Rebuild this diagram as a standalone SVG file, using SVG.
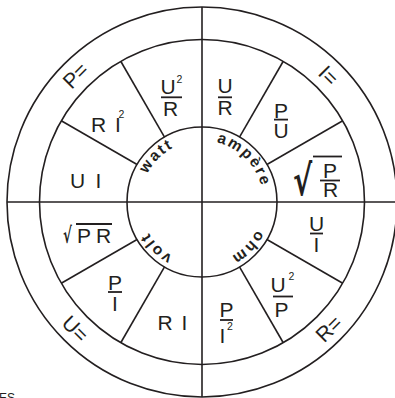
<svg xmlns="http://www.w3.org/2000/svg" width="395" height="398" viewBox="0 0 395 398">
<style>
.ln{stroke:#231f20;stroke-width:1.6;fill:none}
.bar{stroke:#231f20;stroke-width:1.8}
.t{font-family:"Liberation Sans",Arial,sans-serif;font-size:21px;fill:#231f20;text-anchor:middle}
.s{font-family:"Liberation Sans",Arial,sans-serif;font-size:10.5px;fill:#231f20;text-anchor:middle}
.u{font-family:"Liberation Sans",Arial,sans-serif;font-size:15.5px;font-weight:bold;fill:#231f20;letter-spacing:2px;text-anchor:middle}
.rad{font-family:"DejaVu Sans",sans-serif;font-weight:bold;fill:#231f20}
</style>
<defs>
<path id="ring" d="M 140.5 202 A 61.5 61.5 0 1 1 263.5 202 A 61.5 61.5 0 1 1 140.5 202"/>
</defs>
<rect width="395" height="398" fill="#ffffff"/>
<g id="frame">
<circle class="ln" cx="202" cy="202" r="195"/>
<circle class="ln" cx="202" cy="202" r="162.5"/>
<circle class="ln" cx="202" cy="202" r="75"/>
<line class="ln" x1="7" y1="202" x2="397" y2="202"/>
<line class="ln" x1="202" y1="7" x2="202" y2="397"/>
</g>
<g id="connectors">
<line class="ln" x1="137.05" y1="164.5" x2="61.27" y2="120.75"/>
<line class="ln" x1="164.5" y1="137.05" x2="120.75" y2="61.27"/>
<line class="ln" x1="239.5" y1="137.05" x2="283.25" y2="61.27"/>
<line class="ln" x1="266.95" y1="164.5" x2="342.73" y2="120.75"/>
<line class="ln" x1="266.95" y1="239.5" x2="342.73" y2="283.25"/>
<line class="ln" x1="239.5" y1="266.95" x2="283.25" y2="342.73"/>
<line class="ln" x1="164.5" y1="266.95" x2="120.75" y2="342.73"/>
<line class="ln" x1="137.05" y1="239.5" x2="61.27" y2="283.25"/>
</g>
<g id="units">
<text class="u"><textPath href="#ring" startOffset="12.5%">watt</textPath></text>
<text class="u"><textPath href="#ring" startOffset="37.5%">ampère</textPath></text>
<text class="u"><textPath href="#ring" startOffset="62.5%">ohm</textPath></text>
<text class="u"><textPath href="#ring" startOffset="87.5%">volt</textPath></text>
</g>
<g id="label-P"><text class="t" transform="translate(75.4 75.4) rotate(-45)" y="7.5">P=</text></g>
<g id="label-I"><text class="t" transform="translate(328.6 75.4) rotate(45)" y="7.5">I=</text></g>
<g id="label-U"><text class="t" transform="translate(75.4 328.6) rotate(45)" y="7.5">U=</text></g>
<g id="label-R"><text class="t" transform="translate(328.6 328.6) rotate(-45)" y="7.5">R=</text></g>
<g id="p-u2r">
<text class="t" x="168" y="93.5">U</text><text class="s" x="179.5" y="82.5">2</text>
<line class="bar" x1="161" y1="97.3" x2="182" y2="97.3"/>
<text class="t" x="170.5" y="116">R</text>
</g>
<g id="p-ri2">
<text class="t" x="98.5" y="131.5">R</text><text class="t" x="118" y="131.5">I</text><text class="s" x="121.5" y="118">2</text>
</g>
<g id="p-ui">
<text class="t" x="77.5" y="188">U</text><text class="t" x="98.5" y="188">I</text>
</g>
<g id="i-ur">
<text class="t" x="225" y="93">U</text>
<line class="bar" x1="218" y1="97.3" x2="232" y2="97.3"/>
<text class="t" x="225" y="115">R</text>
</g>
<g id="i-pu">
<text class="t" x="281" y="117.5">P</text>
<line class="bar" x1="274" y1="119.6" x2="288" y2="119.6"/>
<text class="t" x="281" y="138">U</text>
</g>
<g id="i-sqrt">
<text class="rad" transform="translate(293 195) scale(0.72 1.05)" font-size="40">√</text>
<line class="bar" x1="313" y1="156.5" x2="342" y2="156.5"/>
<text class="t" x="330" y="178">P</text>
<line class="bar" x1="320" y1="180.5" x2="340" y2="180.5"/>
<text class="t" x="330.5" y="197">R</text>
</g>
<g id="r-ui">
<text class="t" x="316.5" y="231">U</text>
<line class="bar" x1="310" y1="233.5" x2="323" y2="233.5"/>
<text class="t" x="316.5" y="252">I</text>
</g>
<g id="r-u2p">
<text class="t" x="278" y="292">U</text><text class="s" x="291.5" y="280">2</text>
<line class="bar" x1="273" y1="296.5" x2="293" y2="296.5"/>
<text class="t" x="281.5" y="317">P</text>
</g>
<g id="r-pi2">
<text class="t" x="226.5" y="317">P</text>
<line class="bar" x1="220" y1="320" x2="233" y2="320"/>
<text class="t" x="222.5" y="343">I</text><text class="s" x="230" y="330">2</text>
</g>
<g id="u-sqrt">
<text class="rad" transform="translate(63 243) scale(0.6 1)" font-size="22">√</text>
<line class="bar" x1="76" y1="224" x2="112" y2="224"/>
<text class="t" x="84" y="243">P</text><text class="t" x="103.5" y="243">R</text>
</g>
<g id="u-pi">
<text class="t" x="115" y="290">P</text>
<line class="bar" x1="108" y1="292" x2="122" y2="292"/>
<text class="t" x="115" y="310.5">I</text>
</g>
<g id="u-ri">
<text class="t" x="165" y="330">R</text><text class="t" x="184.5" y="330">I</text>
</g>
<text x="-1" y="402" font-family="Liberation Sans, Arial, sans-serif" font-size="12" fill="#231f20">ES</text>
</svg>
